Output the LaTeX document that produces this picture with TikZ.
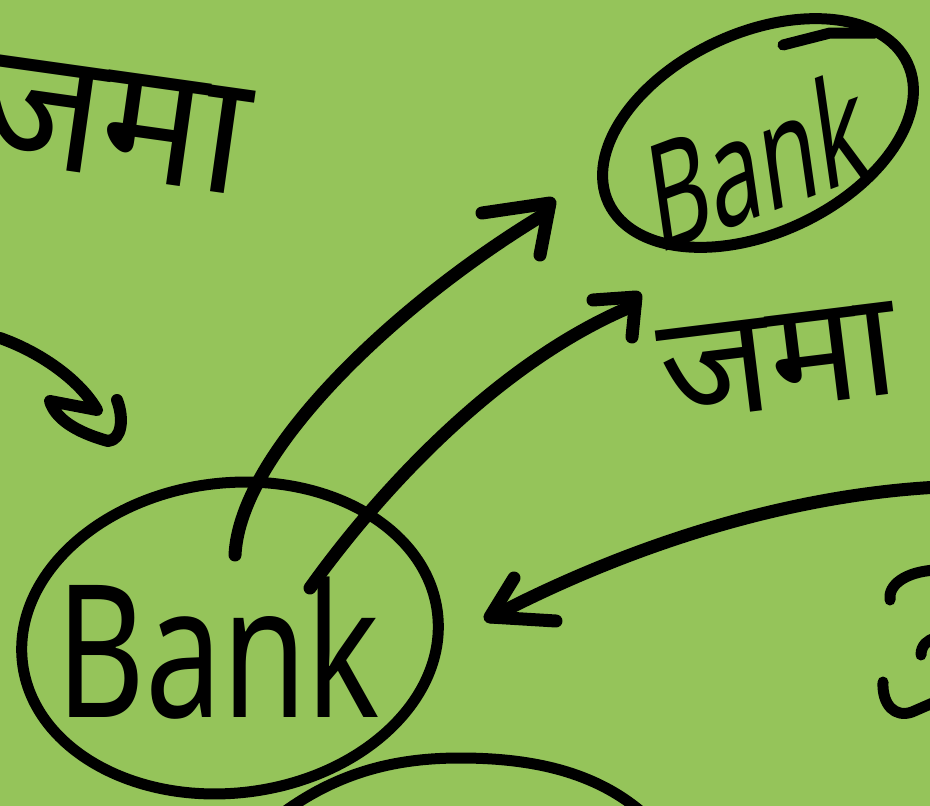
\documentclass[tikz,border=0pt]{standalone}
\usepackage{fontspec}
\newfontfamily\deva[Script=Devanagari]{Noto Sans}
\newfontfamily\bankfont{Noto Sans}
\definecolor{bg}{RGB}{149,196,90}
\tikzset{
  ink/.style={draw=black, line width=12pt, line cap=round, line join=round},
  ring/.style={draw=black, line width=11pt},
  devabig/.style={inner sep=0pt, font=\deva\fontsize{170}{170}\selectfont},
  devamid/.style={inner sep=0pt, font=\deva\fontsize{148}{148}\selectfont},
  bankbig/.style={inner sep=0pt, font=\bankfont\fontsize{185}{185}\selectfont},
  banksmall/.style={inner sep=0pt, font=\bankfont\fontsize{150}{150}\selectfont}
}
\begin{document}
\begin{tikzpicture}[x=1pt,y=-1pt]
\useasboundingbox (0,0) rectangle (930,806);
\fill[bg] (0,0) rectangle (930,806);
\clip (0,0) rectangle (930,806);

% texts
\node[devabig, rotate=-8] (jama1) at (112,124) {जमा};
\node[devamid, rotate=7] (jama2) at (778,362) {जमा};
\node[bankbig, xscale=0.74] (bank1) at (218,648) {Bank};
\node[banksmall, xscale=0.62, rotate=13] (bank2) at (757,160) {Bank};

% rings
\draw[ring, rotate around={7:(230,638)}] (230,638) ellipse [x radius=209, y radius=155];
\draw[ring, rotate around={25:(758,133)}] (758,133) ellipse [x radius=165, y radius=100];
\draw[ink, line width=11pt] (783,45) -- (830,33) -- (875,33);
\draw[ring] (280,815) .. controls (340,770) and (400,758) .. (460,758) .. controls (540,758) and (600,775) .. (645,815);

% arrow coordinates
\coordinate (a1s) at (0,338);
\coordinate (a1t) at (97,410);
\coordinate (a2s) at (235,555);
\coordinate (a2t) at (548,212);
\coordinate (a3s) at (310,588);
\coordinate (a3t) at (635,305);
\coordinate (a4s) at (940,487);
\coordinate (a4t) at (492,617);

% arrows
\draw[ink] (a1s) .. controls (40,352) and (80,380) .. (a1t) -- (50,401) .. controls (55,418) and (75,432) .. (108,441) .. controls (122,440) and (124,418) .. (117,400);
\draw[ink, line width=13pt] (a2s) .. controls (240,450) and (400,300) .. (a2t);
\draw[ink, line width=13pt] (482,213) -- (550,203) -- (540,255);
\draw[ink, line width=13pt] (a3s) .. controls (380,490) and (500,360) .. (a3t);
\draw[ink, line width=13pt] (593,300) -- (636,297) -- (632,337);
\draw[ink, line width=13pt] (a4s) .. controls (780,495) and (620,550) .. (a4t);
\draw[ink, line width=13pt] (514,578) -- (490,617) -- (556,621);

% partial stroke at right edge
\draw[ink, line width=11pt] (890,600) .. controls (888,585) and (905,572) .. (935,570);
\draw[ink, line width=11pt] (921,655) .. controls (921,645) and (928,640) .. (935,638);
\draw[ink, line width=11pt] (883,682) .. controls (882,705) and (895,718) .. (912,712) -- (935,702);
\end{tikzpicture}
\end{document}
